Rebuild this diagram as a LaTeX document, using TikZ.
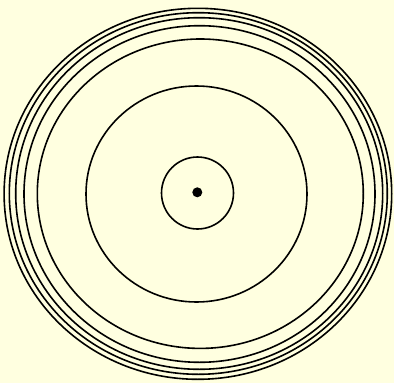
\documentclass[tikz,border=0pt]{standalone}
\definecolor{bgyellow}{HTML}{FFFFE0}
\begin{document}
\begin{tikzpicture}[x=1pt,y=-1pt,ring/.style={draw=black,line width=1.6pt}]
\fill[bgyellow] (0,0) rectangle (394,383);
\useasboundingbox (0,0) rectangle (394,383);
\draw[ring] (197.9,193.8) ellipse [x radius=193.8,y radius=185.5];
\draw[ring] (198.3,193.5) ellipse [x radius=189,y radius=180.8];
\draw[ring] (199.2,193.5) ellipse [x radius=183.5,y radius=175.8];
\draw[ring] (199.5,194) ellipse [x radius=175.5,y radius=168.3];
\draw[ring] (200.3,193.7) ellipse [x radius=163,y radius=154.7];
\draw[ring] (196.5,194) ellipse [x radius=110.5,y radius=108];
\draw[ring] (197.5,193) ellipse [x radius=36,y radius=36];
\fill[black] (197.3,192.3) circle [radius=5];
\end{tikzpicture}
\end{document}
